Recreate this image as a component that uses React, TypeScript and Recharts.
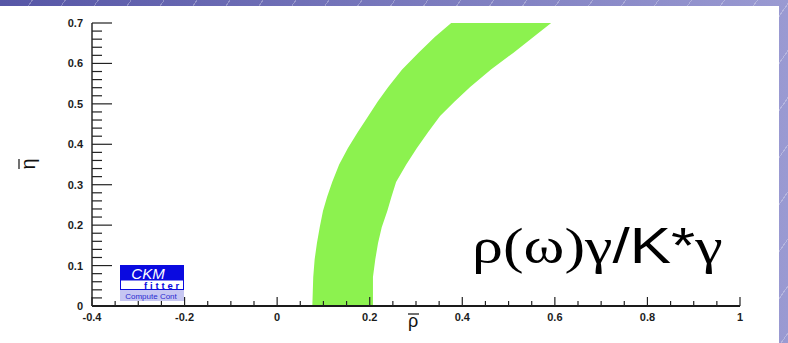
import React from "react";
import { ComposedChart, Area, XAxis, YAxis, Customized } from "recharts";

// allowed band in the (rho-bar, eta-bar) plane: for each eta, the rho interval
const etaValues = [0, 0.036, 0.072, 0.115, 0.156, 0.195, 0.235, 0.27, 0.307, 0.35, 0.391, 0.43, 0.47, 0.505, 0.542, 0.585, 0.626, 0.665, 0.7];
const rhoLeft = [0.076, 0.077, 0.078, 0.081, 0.086, 0.092, 0.099, 0.108, 0.119, 0.134, 0.153, 0.174, 0.197, 0.217, 0.24, 0.27, 0.305, 0.34, 0.376];
const rhoRight = [0.207, 0.207, 0.207, 0.212, 0.218, 0.226, 0.238, 0.247, 0.257, 0.279, 0.302, 0.326, 0.352, 0.383, 0.417, 0.462, 0.51, 0.553, 0.592];

const rhoMajor = [-0.4, -0.2, 0, 0.2, 0.4, 0.6, 0.8, 1];
const rhoLabels = ["-0.4", "-0.2", "0", "0.2", "0.4", "0.6", "0.8", "1"];
const etaMajor = [0, 0.1, 0.2, 0.3, 0.4, 0.5, 0.6, 0.7];
const etaLabels = ["0", "0.1", "0.2", "0.3", "0.4", "0.5", "0.6", "0.7"];

const RHO_MINOR = 0.05;
const ETA_MINOR = 0.02;

const bandData = etaValues.map((eta, i) => ({ eta, rho: [rhoLeft[i], rhoRight[i]] }));

function minorTicks(lo: number, hi: number, step: number) {
  const out: number[] = [];
  const n = Math.round((hi - lo) / step);
  for (let i = 0; i <= n; i++) out.push(Math.round((lo + i * step) * 1000) / 1000);
  return out;
}

const rhoTicks = minorTicks(-0.4, 1, RHO_MINOR);
const etaTicks = minorTicks(0, 0.7, ETA_MINOR);

const majorIndex = (v: number, majors: number[]) => majors.findIndex((m) => Math.abs(m - v) < 1e-6);

const FONT = "'Liberation Sans', Arial, Helvetica, sans-serif";
const SERIF = "'Liberation Serif', 'Times New Roman', serif";
const GREEN = "#8cf24f";

const labelStyle = { fontFamily: FONT, fontWeight: 700, fontSize: 11, fill: "#1c1c1c" };

function BottomTick({ x, y, payload }: any) {
  const k = majorIndex(payload.value, rhoMajor);
  return (
    <g>
      <line x1={x} x2={x} y1={y} y2={y - (k >= 0 ? 9 : 5)} stroke="#222" strokeWidth={1.2} />
      {k >= 0 && (
        <text x={x} y={y + 15} textAnchor="middle" {...labelStyle}>
          {rhoLabels[k]}
        </text>
      )}
    </g>
  );
}

function TopTick({ x, y, payload }: any) {
  const k = majorIndex(payload.value, rhoMajor);
  return <line x1={x} x2={x} y1={y} y2={y + (k >= 0 ? 9 : 5)} stroke="#444" strokeWidth={1.2} />;
}

function LeftTick({ x, y, payload }: any) {
  const k = majorIndex(payload.value, etaMajor);
  return (
    <g>
      <line x1={x} x2={x + (k >= 0 ? 20 : 10)} y1={y} y2={y} stroke="#222" strokeWidth={1.2} />
      {k >= 0 && (
        <text x={x - 9} y={y + 4} textAnchor="end" {...labelStyle}>
          {etaLabels[k]}
        </text>
      )}
    </g>
  );
}

function RightTick({ x, y, payload }: any) {
  const k = majorIndex(payload.value, etaMajor);
  return <line x1={x} x2={x - (k >= 0 ? 20 : 10)} y1={y} y2={y} stroke="#222" strokeWidth={1.2} />;
}

function Annotations() {
  return (
    <g>
      {/* axis titles with overbars */}
      <g transform="translate(30,164) rotate(-90)">
        <text x={0} y={5} textAnchor="middle" fontFamily={FONT} fontSize={20} fill="#111">
          η
        </text>
        <line x1={-5} x2={5} y1={-11} y2={-11} stroke="#111" strokeWidth={1.2} />
      </g>
      <text x={413} y={327} textAnchor="middle" fontFamily={FONT} fontSize={18} fill="#111">
        ρ
      </text>
      <line x1={408} x2={419} y1={314} y2={314} stroke="#111" strokeWidth={1.2} />

      {/* constraint name */}
      <g transform="translate(472,263) scale(1.24,1)">
        <text x={0} y={0} fontSize={50} fill="#000">
          <tspan fontFamily={SERIF}>ρ(ω)γ</tspan>
          <tspan fontFamily={FONT}>/K*</tspan>
          <tspan fontFamily={SERIF}>γ</tspan>
        </text>
      </g>

      {/* CKMfitter badge */}
      <rect x={120} y={265} width={64} height={15} fill="#0a0ae0" />
      <text x={148} y={278.5} textAnchor="middle" fontFamily={FONT} fontStyle="italic" fontSize={15} fill="#fff">
        CKM
      </text>
      <rect x={120.5} y={280} width={63} height={9.5} fill="#fff" stroke="#0a0ae0" strokeWidth={1} />
      <text x={182} y={288.5} textAnchor="end" fontFamily={FONT} fontWeight={700} fontSize={9.5} letterSpacing={2.8} fill="#0a0ae0">
        fitter
      </text>
      <rect x={120} y={290} width={64} height={11} fill="#c6c6f2" />
      <text x={151} y={298.5} textAnchor="middle" fontFamily={FONT} fontSize={8} fill="#2a2ad0">
        Compute Cont
      </text>
    </g>
  );
}

export default function App() {
  return (
    <div
      style={{
        position: "absolute",
        left: 0,
        top: 0,
        width: 788,
        height: 343,
        background:
          "repeating-linear-gradient(125deg, rgba(255,255,255,0) 0px, rgba(255,255,255,0) 26px, rgba(255,255,255,0.28) 26px, rgba(255,255,255,0.28) 27px), linear-gradient(to right, #5656a6, #9a9ad2)",
      }}
    >
      <div style={{ position: "absolute", left: 0, top: 6, width: 779, height: 337, background: "#fff" }} />
      <div style={{ position: "absolute", left: 0, top: 0 }}>
        <ComposedChart
          width={788}
          height={343}
          layout="vertical"
          data={bandData}
          margin={{ top: 23, right: 48, bottom: 0, left: 0 }}
        >
          <XAxis
            xAxisId="b"
            type="number"
            domain={[-0.4, 1]}
            ticks={rhoTicks}
            interval={0}
            allowDataOverflow
            height={37}
            tickSize={0}
            tickMargin={0}
            tickLine={false}
            axisLine={{ stroke: "#1a1a1a", strokeWidth: 2 }}
            tick={(p: any) => <BottomTick {...p} />}
          />
          <XAxis
            xAxisId="t"
            orientation="top"
            type="number"
            domain={[-0.4, 1]}
            ticks={rhoTicks}
            interval={0}
            allowDataOverflow
            height={0}
            tickSize={0}
            tickMargin={0}
            tickLine={false}
            axisLine={{ stroke: "#777", strokeWidth: 1.5 }}
            tick={(p: any) => <TopTick {...p} />}
          />
          <YAxis
            yAxisId="l"
            type="number"
            dataKey="eta"
            domain={[0, 0.7]}
            reversed
            ticks={etaTicks}
            interval={0}
            allowDataOverflow
            width={92}
            tickSize={0}
            tickMargin={0}
            tickLine={false}
            axisLine={{ stroke: "#2a2a2a", strokeWidth: 1.5 }}
            tick={(p: any) => <LeftTick {...p} />}
          />
          <YAxis
            yAxisId="r"
            orientation="right"
            type="number"
            dataKey="eta"
            domain={[0, 0.7]}
            reversed
            ticks={etaTicks}
            interval={0}
            allowDataOverflow
            width={0}
            tickSize={0}
            tickMargin={0}
            tickLine={false}
            axisLine={{ stroke: "#000", strokeWidth: 2.5 }}
            tick={(p: any) => <RightTick {...p} />}
          />
          <Area
            xAxisId="b"
            yAxisId="l"
            dataKey="rho"
            type="linear"
            fill={GREEN}
            fillOpacity={1}
            stroke="none"
            isAnimationActive={false}
          />
          <Customized component={Annotations} />
        </ComposedChart>
      </div>
    </div>
  );
}
